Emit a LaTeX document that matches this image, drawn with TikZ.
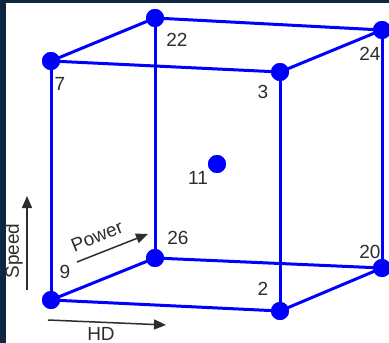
\documentclass[tikz,border=0pt]{standalone}
\usepackage{fontspec}
\setmainfont{Liberation Sans}
\usetikzlibrary{arrows.meta}
\definecolor{navy}{RGB}{14,38,66}
\definecolor{cubeblue}{RGB}{0,0,255}
\definecolor{txt}{RGB}{45,45,45}
\tikzset{
  vertex/.style={circle,fill=cubeblue,inner sep=0pt,minimum size=18pt},
  edge/.style={draw=cubeblue,line width=3pt},
  lab/.style={text=txt,inner sep=0pt,font=\fontsize{19}{21}\selectfont},
  axis/.style={draw=txt,line width=1.5pt,-{Triangle[length=12pt,width=10pt]}}
}
\begin{document}
\begin{tikzpicture}[x=1pt,y=-1pt]
\useasboundingbox (0,0) rectangle (389,343);
\fill[navy] (0,0) rectangle (389,343);
\fill[white] (6,3) rectangle (389,343);
% vertices
\node[vertex] (v22) at (155,18) {};
\node[vertex] (v7)  at (51,61) {};
\node[vertex] (v24) at (382,30) {};
\node[vertex] (v3)  at (280,72) {};
\node[vertex] (v26) at (155,258) {};
\node[vertex] (v9)  at (51,300) {};
\node[vertex] (v20) at (382,268) {};
\node[vertex] (v2)  at (280,311) {};
\node[vertex] (v11) at (217,164) {};
% edges
\draw[edge] (v7.center) -- (v22.center) -- (v24.center) -- (v3.center) -- cycle;
\draw[edge] (v9.center) -- (v26.center) -- (v20.center) -- (v2.center) -- cycle;
\draw[edge] (v7.center) -- (v9.center);
\draw[edge] (v22.center) -- (v26.center);
\draw[edge] (v3.center) -- (v2.center);
\draw[edge] (v24.center) -- (v20.center);
% redraw vertices on top
\foreach \v in {v22,v7,v24,v3,v26,v9,v20,v2,v11} \fill[cubeblue] (\v) circle (9pt);
% labels
\node[lab] (l22) at (177,40) {22};
\node[lab] (l7)  at (60,84) {7};
\node[lab] (l24) at (370,54) {24};
\node[lab] (l3)  at (263,92) {3};
\node[lab] (l11) at (198,178) {11};
\node[lab] (l26) at (178,238) {26};
\node[lab] (l9)  at (65,272) {9};
\node[lab] (l20) at (370,252) {20};
\node[lab] (l2)  at (263,289) {2};
% axes
\coordinate (s0) at (27,290);
\coordinate (s1) at (27,196);
\draw[axis] (s0) -- (s1);
\node[lab,rotate=90] (speed) at (14,251) {Speed};
\coordinate (p0) at (77,262);
\coordinate (p1) at (148,234);
\draw[axis] (p0) -- (p1);
\node[lab,rotate=22] (power) at (97,236) {Power};
\coordinate (h0) at (48,320);
\coordinate (h1) at (166,325);
\draw[axis] (h0) -- (h1);
\node[lab] (hd) at (101,334) {HD};
\end{tikzpicture}
\end{document}
